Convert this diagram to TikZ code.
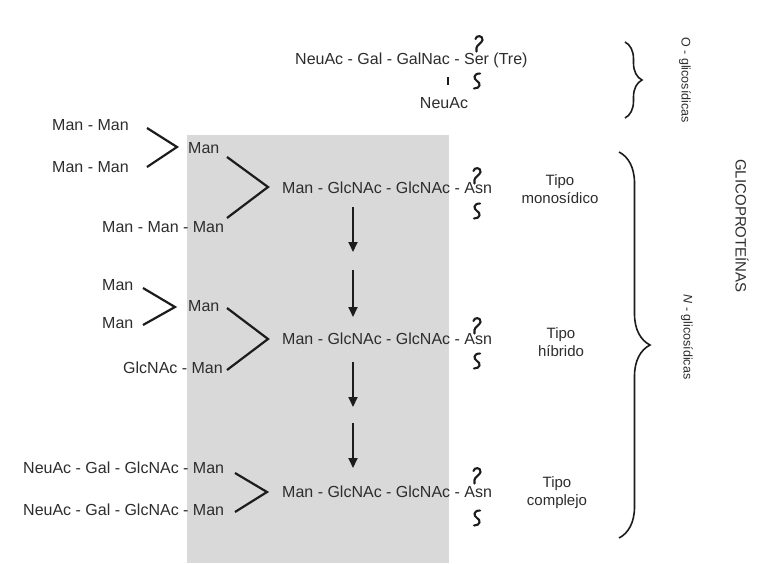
\documentclass[tikz,border=0pt]{standalone}
\usepackage{fontspec}
\setmainfont{Liberation Sans}
\usetikzlibrary{arrows.meta,decorations.pathreplacing}
\definecolor{boxgray}{RGB}{217,217,217}
\definecolor{ink}{RGB}{45,45,45}
\definecolor{lineink}{RGB}{28,28,28}
\begin{document}
\begin{tikzpicture}[x=1pt,y=-1pt,
  lbl/.style={inner sep=0pt, anchor=west, text=ink, font=\fontsize{16}{18}\selectfont, text height=11.5pt, text depth=0pt},
  clbl/.style={lbl, anchor=center},
  tipo/.style={inner sep=0pt, anchor=center, text=ink, align=center, font=\fontsize{15}{18}\selectfont},
  rot/.style={inner sep=0pt, anchor=center, text=ink, rotate=-90, font=\fontsize{12.5}{14}\selectfont},
  chev/.style={draw=lineink, line width=2.2pt, line join=miter},
  arr/.style={draw=lineink, line width=1.8pt, -{Triangle[width=9pt,length=10pt]}},
  sq/.style={draw=lineink, line width=2.1pt, line cap=round},
  bracestyle/.style={draw=lineink, line width=1.6pt, decorate},
  topsq/.pic={\draw[sq] (-3.5,-5) .. controls (-3,-9) and (4,-9) .. (3.5,-4) .. controls (3,-1) and (-2.5,1) .. (-2.5,4) -- (-2.5,7.5);},
  botsq/.pic={\draw[sq] (3,-7.5) .. controls (-4,-7.5) and (-3.5,-2) .. (0,0) .. controls (4,2) and (3.5,7.5) .. (-3,7.5);}
]
\useasboundingbox (0,0) rectangle (765,563);
\fill[white] (0,0) rectangle (765,563);
\fill[boxgray] (187,135) rectangle (449,563);

% O-glycosidic
\node[lbl] (oser) at (295,59) {NeuAc - Gal - GalNac - Ser (Tre)};
\node[clbl] (oneu) at (444,103) {NeuAc};
\draw[draw=lineink, line width=1.8pt] (448,77) -- (448,85);
\pic at (479,44) {topsq};
\pic at (477,81) {botsq};
\draw[bracestyle, decoration={brace, amplitude=17pt}] (625,42) -- (625,118);
\node[rot] (olab) at (685,80) {O - glicosídicas};

% Row 1
\node[lbl] (mm1) at (52,125) {Man - Man};
\node[lbl] (mm2) at (52,167) {Man - Man};
\node[lbl] (m1) at (188,148) {Man};
\node[lbl] (mmm) at (102,227) {Man - Man - Man};
\node[lbl] (core1) at (282,188) {Man - GlcNAc - GlcNAc - Asn};
\coordinate (a1) at (147,128); \coordinate (t1) at (177,147); \coordinate (b1) at (147,167);
\draw[chev] (a1) -- (t1) -- (b1);
\coordinate (a2) at (227,157); \coordinate (t2) at (268,187); \coordinate (b2) at (227,218);
\draw[chev] (a2) -- (t2) -- (b2);
\pic at (477,176) {topsq};
\pic at (477,211) {botsq};
\node[tipo] (tipo1) at (560,189) {Tipo\\monosídico};

% arrows
\coordinate (r1) at (353,207); \coordinate (r1e) at (353,252);
\coordinate (r2) at (353,270); \coordinate (r2e) at (353,317);
\coordinate (r3) at (353,362); \coordinate (r3e) at (353,407);
\coordinate (r4) at (353,423); \coordinate (r4e) at (353,468);
\draw[arr] (r1) -- (r1e);
\draw[arr] (r2) -- (r2e);
\draw[arr] (r3) -- (r3e);
\draw[arr] (r4) -- (r4e);

% Row 2
\node[lbl] (h1) at (102,285) {Man};
\node[lbl] (h2) at (102,323) {Man};
\node[lbl] (hm) at (188,306) {Man};
\node[lbl] (hg) at (123,368) {GlcNAc - Man};
\node[lbl] (core2) at (282,339) {Man - GlcNAc - GlcNAc - Asn};
\coordinate (a3) at (143,288); \coordinate (t3) at (175,307); \coordinate (b3) at (143,325);
\draw[chev] (a3) -- (t3) -- (b3);
\coordinate (a4) at (227,308); \coordinate (t4) at (268,339); \coordinate (b4) at (227,370);
\draw[chev] (a4) -- (t4) -- (b4);
\pic at (477,326) {topsq};
\pic at (477,361) {botsq};
\node[tipo] (tipo2) at (561,342) {Tipo\\híbrido};

% Row 3
\node[lbl] (c1) at (23,468) {NeuAc - Gal - GlcNAc - Man};
\node[lbl] (c2) at (23,510) {NeuAc - Gal - GlcNAc - Man};
\node[lbl] (core3) at (282,492) {Man - GlcNAc - GlcNAc - Asn};
\coordinate (a5) at (235,473); \coordinate (t5) at (267,492); \coordinate (b5) at (235,512);
\draw[chev] (a5) -- (t5) -- (b5);
\pic at (477,476) {topsq};
\pic at (477,518) {botsq};
\node[tipo] (tipo3) at (557,493) {Tipo\\complejo};

% N brace and labels
\draw[bracestyle, decoration={brace, amplitude=31pt}] (619,152) -- (619,538);
\node[rot] (nlab) at (687,337) {\textit{N} - glicosídicas};
\node[rot, font=\fontsize{15}{17}\selectfont] (glico) at (742,226) {GLICOPROTEÍNAS};
\end{tikzpicture}
\end{document}
